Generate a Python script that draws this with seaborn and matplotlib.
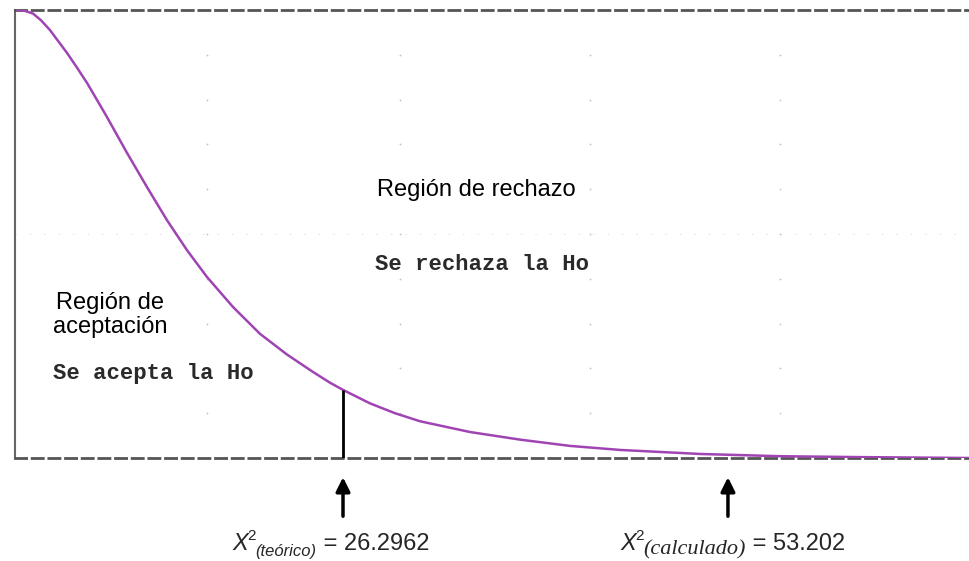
import matplotlib
matplotlib.use("Agg")
import matplotlib.pyplot as plt
import seaborn as sns
import numpy as np
import pandas as pd

# curve (x in chi-square units, y = relative density)
chi_x = [3.51, 4.07, 4.63, 5.19, 5.82, 7.01, 7.71, 8.41, 9.80, 11.20,
         12.59, 13.99, 15.39, 16.79, 18.61, 20.50, 22.38, 24.20, 25.39,
         26.30, 28.18, 29.93, 31.68, 35.17, 38.67, 42.16, 45.66, 51.25,
         56.84, 62.43, 70.12]
density = [1.000, 0.998, 0.992, 0.977, 0.955, 0.904, 0.871, 0.837, 0.761,
           0.681, 0.605, 0.531, 0.464, 0.404, 0.337, 0.277, 0.231, 0.192,
           0.168, 0.152, 0.122, 0.100, 0.082, 0.058, 0.041, 0.027, 0.018,
           0.009, 0.004, 0.002, 0.000]

chi_teorico = 26.2962
chi_calculado = 53.202
density_at_teorico = 0.152

# faint background grid (scan dots)
grid_x = [16.79, 30.28, 43.56, 56.84]
grid_y = [0.1, 0.2, 0.3, 0.4, 0.5, 0.6, 0.7, 0.8, 0.9]

df = pd.DataFrame({"x": chi_x, "y": density})

sns.set_theme(style="white")
plt.rcParams["font.family"] = ["Liberation Sans", "DejaVu Sans"]

fig = plt.figure(figsize=(9.7, 5.61), dpi=100)
ax = fig.add_axes([15 / 970, 1 - 458 / 561, 1 - 15 / 970, 448 / 561])

gx, gy = np.meshgrid(grid_x, grid_y)
ax.scatter(gx.ravel(), gy.ravel(), s=4, marker="+", color="#c8c8c8",
           linewidths=0.6, zorder=1)
ax.axhline(0.5, color="#dddddd", lw=0.8, ls=(0, (1, 12)), zorder=1)

sns.lineplot(data=df, x="x", y="y", sort=False, color="#a044b4", lw=1.8,
             ax=ax, zorder=3)

ax.vlines(chi_teorico, 0, density_at_teorico, color="black", lw=2, zorder=4)

ax.set_xlim(3.37, 70.12)
ax.set_ylim(0, 1)
ax.set_xticks([])
ax.set_yticks([])
ax.set_xlabel("")
ax.set_ylabel("")

for side in ["top", "bottom"]:
    ax.spines[side].set_visible(True)
    ax.spines[side].set_color("#555555")
    ax.spines[side].set_linewidth(2)
    ax.spines[side].set_linestyle((0, (4, 2)))
ax.spines["left"].set_color("#666666")
ax.spines["left"].set_linewidth(1.5)
ax.spines["right"].set_visible(False)

# region texts
fig.text(476 / 970, 1 - 190 / 561, "Región de rechazo", ha="center",
         va="center", fontsize=17, color="black")
fig.text(482 / 970, 1 - 264 / 561, "Se rechaza la Ho", ha="center",
         va="center", fontsize=16, color="#2a2a2a", family="Liberation Mono",
         fontweight="bold")
fig.text(110 / 970, 1 - 315 / 561, "Región de\naceptación", ha="center",
         va="center", fontsize=17, color="black", linespacing=1.15)
fig.text(153 / 970, 1 - 373 / 561, "Se acepta la Ho", ha="center",
         va="center", fontsize=16, color="#2a2a2a", family="Liberation Mono",
         fontweight="bold")

# arrows
trans = ax.get_xaxis_transform()
for xv in [chi_teorico, chi_calculado]:
    ax.annotate("", xy=(xv, -0.043), xytext=(xv, -0.13), xycoords=trans,
                textcoords=trans, annotation_clip=False,
                arrowprops=dict(arrowstyle="-|>,head_length=0.7,head_width=0.35",
                                color="black", lw=2.5, shrinkA=0, shrinkB=0))


def chi_label(x_px, sub, sub_family, sub_size, value):
    base_y = 1 - 550 / 561
    t1 = fig.text(x_px / 970, base_y, "X", fontsize=17, style="italic",
                  va="baseline")
    t2 = ax.annotate("2", xy=(1, 0), xycoords=t1, xytext=(-0.5, 9),
                     textcoords="offset points", fontsize=11,
                     va="bottom", annotation_clip=False)
    t3 = ax.annotate(sub, xy=(1, 0), xycoords=(t2, t1), xytext=(0, -3),
                     textcoords="offset points", fontsize=sub_size,
                     style="italic", family=sub_family, va="bottom",
                     annotation_clip=False)
    ax.annotate(" = " + value, xy=(1, 0), xycoords=(t3, t1),
                fontsize=17, va="bottom", annotation_clip=False)


chi_label(232, "(teórico)", "Liberation Sans", 12, "26.2962")
chi_label(620, "(calculado)", "Liberation Serif", 16, "53.202")

fig.savefig("out.png", dpi=100, facecolor="white")
